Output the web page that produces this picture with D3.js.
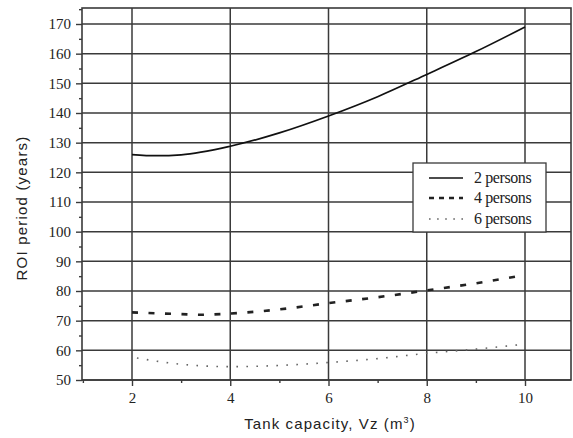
<!DOCTYPE html>
<html>
<head>
<meta charset="utf-8">
<script src="https://cdn.jsdelivr.net/npm/d3@7"></script>
<style>
  html, body { margin: 0; padding: 0; background: #fff; }
  svg { display: block; }
</style>
</head>
<body>
<svg id="chart" width="573" height="438"></svg>
<script>
// ---- data ----
const xTicks = [2, 4, 6, 8, 10];
const xMinorTicks = [1, 3, 5, 7, 9];
const yTicks = [50, 60, 70, 80, 90, 100, 110, 120, 130, 140, 150, 160, 170];
const yMinorTicks = [55, 65, 75, 85, 95, 105, 115, 125, 135, 145, 155, 165, 175];

const x2 = [2, 2.5, 3, 4, 5, 6, 7, 8, 9, 10];
const persons2 = [126.0, 125.6, 125.9, 128.8, 133.3, 139.0, 145.5, 153.0, 160.7, 169.0];

const x4 = [2, 3, 3.4, 4, 5, 6, 7, 8, 9, 10];
const persons4 = [72.8, 72.2, 72.0, 72.4, 73.8, 75.9, 77.9, 80.2, 82.6, 85.4];

const x6 = [2.1, 3, 4, 5, 6, 7, 8, 9, 10];
const persons6 = [57.4, 55.3, 54.5, 54.9, 55.9, 57.2, 59.0, 60.4, 62.1];

const seriesNames = ["2 persons", "4 persons", "6 persons"];

// ---- layout ----
const svg = d3.select("#chart");
const mLeft = 82, mRight = 571, mTop = 8, mBottom = 380;

const x = d3.scaleLinear().domain([2, 10]).range([132, 525]);
x.domain([x.invert(mLeft), x.invert(mRight)]).range([mLeft, mRight]);
const y = d3.scaleLinear().domain([50, 170]).range([380, 24]);
y.domain([50, y.invert(mTop)]).range([mBottom, mTop]);

const gridColor = "#3a3a3a";

// grid lines
const g = svg.append("g");
g.selectAll("line.hg").data(yTicks).join("line")
  .attr("x1", mLeft).attr("x2", mRight)
  .attr("y1", d => y(d)).attr("y2", d => y(d))
  .attr("stroke", gridColor).attr("stroke-width", 1.5);
g.selectAll("line.vg").data(xTicks).join("line")
  .attr("y1", mTop).attr("y2", mBottom)
  .attr("x1", d => x(d)).attr("x2", d => x(d))
  .attr("stroke", gridColor).attr("stroke-width", 1.5);

// frame
svg.append("rect").attr("x", mLeft).attr("y", mTop)
  .attr("width", mRight - mLeft).attr("height", mBottom - mTop)
  .attr("fill", "none").attr("stroke", gridColor).attr("stroke-width", 1.6);

// axes
const serif = "'Liberation Serif', 'Times New Roman', serif";
const yAxis = d3.axisLeft(y).tickValues(yTicks).tickSize(6).tickPadding(5).tickFormat(d3.format("d"));
const yAx = svg.append("g").attr("transform", `translate(${mLeft},0)`).call(yAxis);
yAx.select(".domain").remove();
yAx.selectAll("line").attr("stroke", gridColor).attr("stroke-width", 1.4);
yAx.selectAll("text").attr("font-family", serif).attr("font-size", 15).attr("fill", "#222");

const yMinor = d3.axisLeft(y).tickValues(yMinorTicks).tickSize(3).tickFormat("");
const yMi = svg.append("g").attr("transform", `translate(${mLeft},0)`).call(yMinor);
yMi.select(".domain").remove();
yMi.selectAll("line").attr("stroke", gridColor).attr("stroke-width", 1.4);

const xAxis = d3.axisBottom(x).tickValues(xTicks).tickSize(6).tickPadding(6).tickFormat(d3.format("d"));
const xAx = svg.append("g").attr("transform", `translate(0,${mBottom})`).call(xAxis);
xAx.select(".domain").remove();
xAx.selectAll("line").attr("stroke", gridColor).attr("stroke-width", 1.4);
xAx.selectAll("text").attr("font-family", serif).attr("font-size", 15).attr("fill", "#222");

const xMinor = d3.axisBottom(x).tickValues(xMinorTicks).tickSize(3).tickFormat("");
const xMi = svg.append("g").attr("transform", `translate(0,${mBottom})`).call(xMinor);
xMi.select(".domain").remove();
xMi.selectAll("line").attr("stroke", gridColor).attr("stroke-width", 1.4);

// axis titles
const sans = "'Liberation Sans', Arial, sans-serif";
const xt = svg.append("text").attr("x", 330).attr("y", 429)
  .attr("text-anchor", "middle").attr("font-family", sans).attr("font-size", 15)
  .attr("letter-spacing", 1.1).attr("fill", "#222");
xt.append("tspan").text("Tank capacity, Vz (m");
xt.append("tspan").attr("dy", -6).attr("font-size", 9).text("3");
xt.append("tspan").attr("dy", 6).text(")");

svg.append("text").attr("transform", "translate(26.5,208) rotate(-90)")
  .attr("text-anchor", "middle").attr("font-family", sans).attr("font-size", 15)
  .attr("letter-spacing", 1.2).attr("fill", "#222")
  .text("ROI period (years)");

// series
const line = d3.line().x(d => x(d[0])).y(d => y(d[1])).curve(d3.curveMonotoneX);
const styles = [
  { stroke: "#111", width: 1.7, dash: null },
  { stroke: "#222", width: 2.6, dash: "6,10.5" },
  { stroke: "#666", width: 1.6, dash: "1.6,8.4" }
];
const seriesData = [
  x2.map((v, i) => [v, persons2[i]]),
  x4.map((v, i) => [v, persons4[i]]),
  x6.map((v, i) => [v, persons6[i]])
];
seriesData.forEach((d, i) => {
  svg.append("path").attr("d", line(d)).attr("fill", "none")
    .attr("stroke", styles[i].stroke).attr("stroke-width", styles[i].width)
    .attr("stroke-dasharray", styles[i].dash);
});

// legend
const lg = svg.append("g");
lg.append("rect").attr("x", 413).attr("y", 163).attr("width", 133).attr("height", 69)
  .attr("fill", "#fff").attr("stroke", gridColor).attr("stroke-width", 1.3);
const rowsY = [178, 198, 219];
seriesNames.forEach((name, i) => {
  lg.append("line").attr("x1", 429).attr("x2", 463).attr("y1", rowsY[i]).attr("y2", rowsY[i])
    .attr("stroke", styles[i].stroke).attr("stroke-width", styles[i].width)
    .attr("stroke-dasharray", i === 1 ? "5,5" : (i === 2 ? "1.6,6.5" : null));
  lg.append("text").attr("x", 474).attr("y", rowsY[i] + 5)
    .attr("font-family", serif).attr("font-size", 16).attr("fill", "#222")
    .attr("letter-spacing", -0.4).text(name);
});
</script>
</body>
</html>
